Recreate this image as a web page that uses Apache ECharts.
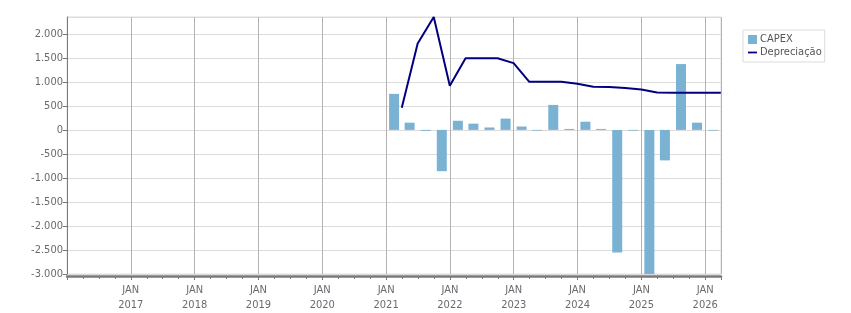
<!DOCTYPE html>
<html>
<head>
<meta charset="utf-8">
<title>CAPEX x Depreciação</title>
<script src="https://cdn.jsdelivr.net/npm/echarts@6/dist/echarts.min.js"></script>
<style>
  html, body { margin: 0; padding: 0; background: #fff; }
  #chart { width: 851px; height: 313px; }
</style>
</head>
<body>
<div id="chart"></div>
<script>
// barras trimestrais (meio do trimestre) e linha (fim do trimestre)
const capexDates = ['2021-02-15', '2021-05-15', '2021-08-15', '2021-11-15',
  '2022-02-15', '2022-05-15', '2022-08-15', '2022-11-15',
  '2023-02-15', '2023-05-15', '2023-08-15', '2023-11-15',
  '2024-02-15', '2024-05-15', '2024-08-15', '2024-11-15',
  '2025-02-15', '2025-05-15', '2025-08-15', '2025-11-15',
  '2026-02-15'];
const capexValues = [750, 150, -20, -860, 190, 130, 50, 235, 70, -15,
  520, 20, 170, 20, -2555, -15, -3000, -635, 1370, 150, -15];

const deprDates = ['2021-03-31', '2021-06-30', '2021-09-30', '2021-12-31',
  '2022-03-31', '2022-06-30', '2022-09-30', '2022-12-31',
  '2023-03-31', '2023-06-30', '2023-09-30', '2023-12-31',
  '2024-03-31', '2024-06-30', '2024-09-30', '2024-12-31',
  '2025-03-31', '2025-06-30', '2025-09-30', '2025-12-31',
  '2026-03-31'];
const deprValues = [460, 1800, 2350, 920, 1490, 1490, 1490, 1390,
  1000, 1000, 1000, 960, 900, 895, 870, 840,
  780, 775, 775, 775, 775];

const xMin = '2016-01-01';
const xMax = '2026-04-01';
const yMin = -3000;
const yMax = 2350;
const yStep = 500;

const DAY = 24 * 3600 * 1000;
const YEAR = 365.25 * DAY;
const ts = (s) => Date.parse(s + 'T00:00:00Z');
const textColor = '#6a6a70';
const font = "'DejaVu Sans Condensed', 'DejaVu Sans', sans-serif";

// 1.500 / -2.000
const fmtNum = (v) => {
  const s = Math.abs(v).toString().replace(/\B(?=(\d{3})+(?!\d))/g, '.');
  return (v < 0 ? '-' : '') + s;
};

// só rotula o 1º de janeiro (o eixo é numérico em ms)
const fmtDate = (v) => {
  if (v <= ts(xMin) + 2 * DAY || v >= ts(xMax) - 2 * DAY) return '';
  const d = new Date(v + 2 * DAY);
  if (d.getUTCMonth() !== 0 || d.getUTCDate() > 5) return '';
  return 'JAN\n' + d.getUTCFullYear();
};

const myChart = echarts.init(document.getElementById('chart'));
let option = {
  animation: false,
  backgroundColor: '#fff',
  grid: {
    left: 67,
    right: 130,
    top: 17,
    bottom: 36,
    show: true,
    borderColor: '#dcdcdc',
    borderWidth: 1
  },
  legend: {
    orient: 'vertical',
    left: 743,
    top: 30,
    padding: [4, 3, 4, 5],
    itemGap: 2,
    itemWidth: 9,
    itemHeight: 9,
    borderColor: '#dcdcdc',
    borderWidth: 1,
    textStyle: { color: '#555', fontSize: 11, fontFamily: font, padding: [0, 0, 0, -2] },
    data: [
      { name: 'CAPEX', icon: 'rect' },
      { name: 'Depreciação', icon: 'path://M0,4 L10,4 L10,6 L0,6 Z' }
    ]
  },
  xAxis: {
    type: 'value',
    min: ts(xMin),
    max: ts(xMax),
    interval: YEAR,
    offset: 2,
    axisLine: { show: true, onZero: false, lineStyle: { color: '#7a7a7a', width: 2.5 } },
    axisTick: { show: true, length: 4, lineStyle: { color: '#7a7a7a' } },
    minorTick: { show: true, splitNumber: 4, length: 3, lineStyle: { color: '#7a7a7a' } },
    splitLine: { show: true, lineStyle: { color: '#b2b2b2', width: 1 } },
    axisLabel: {
      color: textColor,
      fontSize: 11,
      fontFamily: font,
      lineHeight: 15.5,
      margin: 6,
      formatter: fmtDate
    }
  },
  yAxis: {
    type: 'value',
    min: yMin,
    max: yMax,
    interval: yStep,
    axisLine: { show: true, lineStyle: { color: '#7a7a7a', width: 1 } },
    axisTick: { show: true, length: 4, lineStyle: { color: '#7a7a7a' } },
    splitLine: { show: true, lineStyle: { color: '#dcdcdc', width: 1 } },
    axisLabel: {
      color: textColor,
      fontSize: 11,
      fontFamily: font,
      margin: 4,
      showMaxLabel: false,
      formatter: (v) => fmtNum(v)
    }
  },
  series: [
    {
      name: 'CAPEX',
      type: 'bar',
      barWidth: 10,
      itemStyle: { color: '#7ab2d4' },
      data: capexDates.map((d, i) => [ts(d), capexValues[i]])
    },
    {
      name: 'Depreciação',
      type: 'line',
      showSymbol: false,
      symbol: 'none',
      itemStyle: { color: '#000080' },
      lineStyle: { color: '#000080', width: 2 },
      data: deprDates.map((d, i) => [ts(d), deprValues[i]])
    }
  ]
};
myChart.setOption(option);
</script>
</body>
</html>
